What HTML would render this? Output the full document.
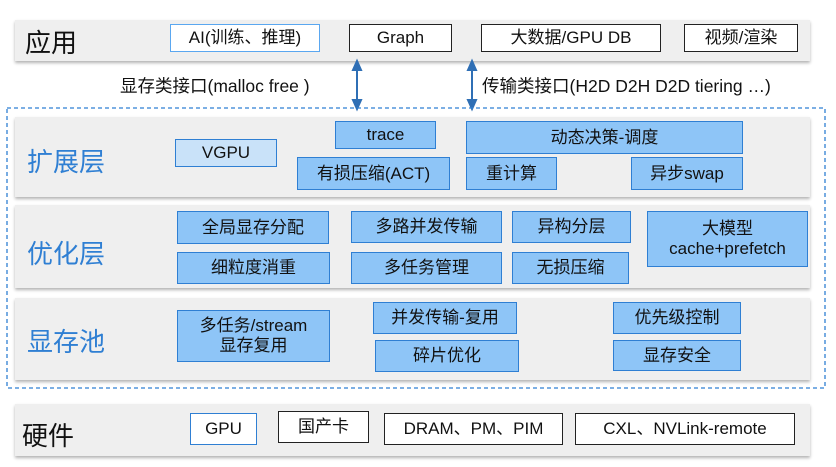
<!DOCTYPE html>
<html><head><meta charset="utf-8"><style>
body{margin:0;width:836px;height:467px;background:#fff;position:relative;overflow:hidden;font-family:"Liberation Sans","Noto Sans CJK SC",sans-serif;}
.band{position:absolute;left:15px;width:795px;background:#efefef;box-shadow:0 2px 3px rgba(0,0,0,.3);}
.b{position:absolute;box-sizing:border-box;border:1.5px solid #2f7fd3;background:#8ec5f7;display:flex;align-items:center;justify-content:center;text-align:center;font-size:17px;color:#111;line-height:20px;}
.w{background:#fff;border:1.5px solid #222;font-size:17px;}
.lt{background:#c9e2f9;}
.lab{position:absolute;font-size:26px;color:#2f7fd3;}
.t{position:absolute;font-size:17.5px;color:#111;white-space:nowrap;}
</style></head><body>
<div class="band" style="top:20px;height:41px"></div>
<div class="lab" style="left:25px;top:23px;color:#111">应用</div>
<div class="b w" style="left:170px;top:24px;width:150px;height:28px;border-color:#5aa7f0">AI(训练、推理)</div>
<div class="b w" style="left:349px;top:24px;width:103px;height:28px">Graph</div>
<div class="b w" style="left:481px;top:24px;width:180px;height:28px">大数据/GPU DB</div>
<div class="b w" style="left:684px;top:24px;width:114px;height:28px">视频/渲染</div>
<div class="t" style="left:120px;top:73px">显存类接口(malloc free )</div>
<div class="t" style="left:482px;top:73px">传输类接口(H2D D2H D2D tiering …)</div>
<svg style="position:absolute;left:0;top:0" width="836" height="467">
<g stroke="#2f6fb5" stroke-width="2" fill="#2f6fb5">
<line x1="357" y1="68" x2="357" y2="102"/><polygon points="357,61 353,70 361,70"/><polygon points="357,109 353,100 361,100"/>
<line x1="472" y1="68" x2="472" y2="102"/><polygon points="472,61 468,70 476,70"/><polygon points="472,109 468,100 476,100"/>
</g>
<rect x="7" y="108" width="818" height="280" fill="none" stroke="#2f7fd3" stroke-width="1.3" stroke-dasharray="4,3"/>
</svg>
<div class="band" style="top:117px;height:80px"></div>
<div class="lab" style="left:27px;top:142px">扩展层</div>
<div class="b lt" style="left:175px;top:139px;width:102px;height:28px">VGPU</div>
<div class="b" style="left:335px;top:121px;width:101px;height:28px">trace</div>
<div class="b" style="left:297px;top:157px;width:153px;height:33px">有损压缩(ACT)</div>
<div class="b" style="left:466px;top:121px;width:277px;height:33px">动态决策-调度</div>
<div class="b" style="left:466px;top:157px;width:91px;height:33px">重计算</div>
<div class="b" style="left:631px;top:157px;width:112px;height:33px">异步swap</div>
<div class="band" style="top:205px;height:83px"></div>
<div class="lab" style="left:27px;top:234px">优化层</div>
<div class="b" style="left:177px;top:211px;width:152px;height:33px">全局显存分配</div>
<div class="b" style="left:177px;top:252px;width:153px;height:32px">细粒度消重</div>
<div class="b" style="left:351px;top:211px;width:151px;height:32px">多路并发传输</div>
<div class="b" style="left:351px;top:252px;width:151px;height:32px">多任务管理</div>
<div class="b" style="left:512px;top:211px;width:119px;height:32px">异构分层</div>
<div class="b" style="left:512px;top:252px;width:117px;height:32px">无损压缩</div>
<div class="b" style="left:647px;top:211px;width:161px;height:56px">大模型<br>cache+prefetch</div>
<div class="band" style="top:298px;height:82px"></div>
<div class="lab" style="left:27px;top:322px">显存池</div>
<div class="b" style="left:177px;top:310px;width:153px;height:52px">多任务/stream<br>显存复用</div>
<div class="b" style="left:373px;top:302px;width:144px;height:32px">并发传输-复用</div>
<div class="b" style="left:375px;top:340px;width:144px;height:32px">碎片优化</div>
<div class="b" style="left:613px;top:302px;width:128px;height:32px">优先级控制</div>
<div class="b" style="left:613px;top:340px;width:128px;height:31px">显存安全</div>
<div class="band" style="top:404px;height:52px"></div>
<div class="lab" style="left:22px;top:416px;color:#111">硬件</div>
<div class="b w" style="left:190px;top:413px;width:67px;height:32px;border-color:#2f7fd3">GPU</div>
<div class="b w" style="left:278px;top:411px;width:91px;height:32px">国产卡</div>
<div class="b w" style="left:384px;top:413px;width:179px;height:32px">DRAM、PM、PIM</div>
<div class="b w" style="left:575px;top:413px;width:220px;height:32px">CXL、NVLink-remote</div>
</body></html>
